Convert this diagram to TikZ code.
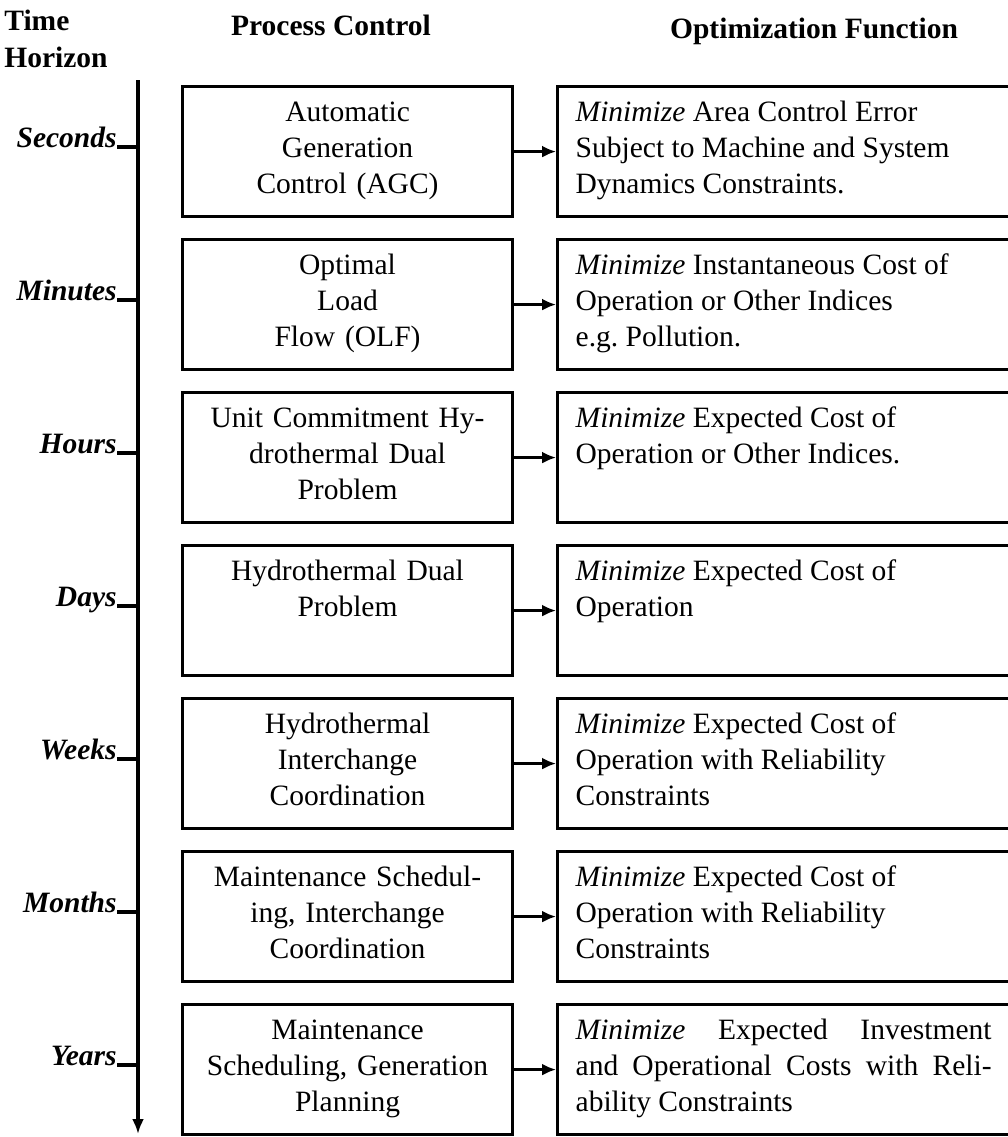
\documentclass[tikz,border=0pt]{standalone}
\usepackage{fontspec}
\setmainfont{Liberation Serif}
\usepackage{tikz}
\usetikzlibrary{arrows.meta}
\usetikzlibrary{positioning}
\tikzset{pcbox/.style={rectangle,draw=black,line width=1.8pt,text width=6.2cm,inner xsep=0.2cm,inner ysep=0.2cm,text height=0.5cm,text depth=1.7cm,align=center,font=\fontsize{16.8}{20.5}\selectfont}}
\tikzset{ofbox/.style={pcbox,text width=8.32cm,inner xsep=0.36cm,align=justify}}
\tikzset{head/.style={font=\fontsize{16.8}{21}\selectfont\bfseries,inner sep=0pt}}
\tikzset{horizon/.style={font=\fontsize{16.8}{20.5}\selectfont\bfseries\itshape,inner sep=0pt}}
\tikzset{conn/.style={line width=1.8pt,-{Latex[length=0.28cm,width=0.24cm]}}}
\tikzset{tick/.style={line width=1.8pt}}

\begin{document}
\frenchspacing
\begin{tikzpicture}[x=0.02cm,y=-0.02cm,node distance=0.84cm]
\useasboundingbox (0,0) rectangle (1008,1137);
\node[head,align=left,anchor=north west] (th) at (4,10) {Time\\Horizon};
\node[head,anchor=base] (pch) at (331,35) {Process Control};
\node[head,anchor=base] (ofh) at (814,38) {Optimization Function};
\coordinate (ax1) at (138,80);
\coordinate (ax2) at (138,1134);
\draw[conn,-{Latex[length=0.3cm,width=0.24cm]}] (ax1) -- (ax2);
\foreach \i/\lab/\pc/\of in {
 1/Seconds/{Automatic\\Generation\\Control (AGC)}/{\textit{Minimize} Area Control Error\\Subject to Machine and System\\Dynamics Constraints.},
 2/Minutes/{Optimal\\Load\\Flow (OLF)}/{\textit{Minimize} Instantaneous Cost of\\Operation or Other Indices\\e.g. Pollution.},
 3/Hours/{Unit Commitment Hy-\\drothermal Dual\\Problem}/{\textit{Minimize} Expected Cost of\\Operation or Other Indices.},
 4/Days/{Hydrothermal Dual\\Problem}/{\textit{Minimize} Expected Cost of\\Operation},
 5/Weeks/{Hydrothermal\\Interchange\\Coordination}/{\textit{Minimize} Expected Cost of\\Operation with Reliability\\Constraints},
 6/Months/{Maintenance Schedul-\\ing, Interchange\\Coordination}/{\textit{Minimize} Expected Cost of\\Operation with Reliability\\Constraints},
 7/Years/{Maintenance\\Scheduling, Generation\\Planning}/{\textit{Minimize} Expected Investment\linebreak and Operational Costs with Reli-\linebreak ability Constraints}} {
	\node[pcbox,anchor=north west] (pc\i) at (181,{85+153*(\i-1)}) {\pc};
	\node[ofbox,right=of pc\i] (of\i) {\of};
	\draw[conn] (pc\i) -- (of\i);
	\node[horizon,anchor=base east] (h\i) at (117,{147+153*(\i-1)}) {\lab};
	\draw[tick] (h\i.base east) -- (h\i.base east -| ax1);
}
\end{tikzpicture}
\end{document}
